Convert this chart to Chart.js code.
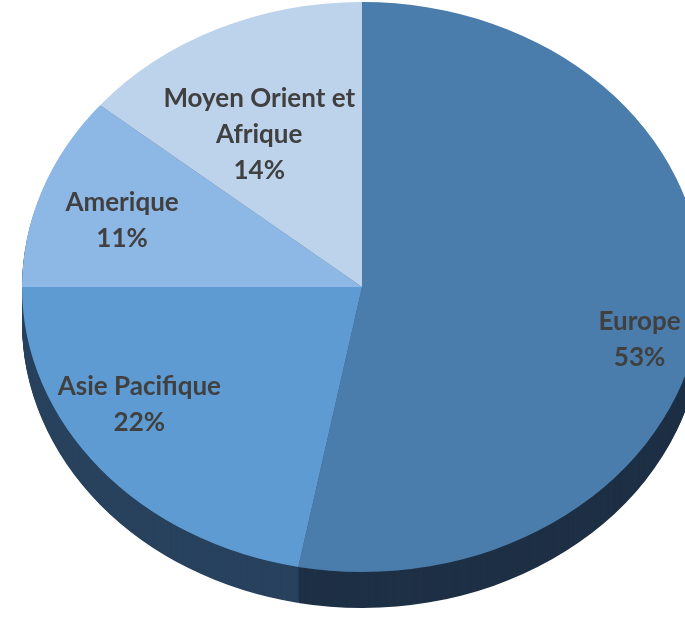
<!DOCTYPE html>
<html>
<head>
<meta charset="utf-8">
<script src="https://cdn.jsdelivr.net/npm/chart.js@4/dist/chart.umd.min.js"></script>
<style>
  html, body { margin: 0; padding: 0; background: #fff; overflow: hidden; }
  #wrap { width: 685px; height: 625px; }
</style>
</head>
<body>
<div id="wrap"><canvas id="regionsChart" width="685" height="625"></canvas></div>
<script>
const regions = ["Europe", "Asie Pacifique", "Amerique", "Moyen Orient et Afrique"];
const shares = [53, 22, 11, 14];

const faceColors = ["#4a7dab", "#5e9bd3", "#8db7e4", "#bdd3ec"];
const rimColors = ["#1e3045", "#28425e", "#2f4d70", "#3a5c82"];

// the pie face is an ellipse, drawn from the library's circle
const face = { cx: 362, cy: 287, rx: 340, ry: 285, depth: 36 };
// where excel put each label: radius fraction and a small vertical nudge
const labelPlace = [
  { r: 0.82, dy: 31 },
  { r: 0.85, dy: -37 },
  { r: 0.75, dy: 6 },
  { r: 0.71, dy: 31 }
];

function squash(ctx, arc) {
  const sx = face.rx / arc.outerRadius;
  const sy = face.ry / arc.outerRadius;
  ctx.translate(face.cx, face.cy);
  ctx.scale(sx, sy);
  ctx.translate(-arc.x, -arc.y);
}

const pie3d = {
  id: "pie3d",
  beforeDatasetsDraw(chart) {
    const ctx = chart.ctx;
    const arcs = chart.getDatasetMeta(0).data;
    ctx.save();
    // side wall: the same arcs pushed down, in dark tones
    for (let d = face.depth; d > 0; d--) {
      ctx.save();
      ctx.translate(0, d);
      squash(ctx, arcs[0]);
      arcs.forEach((arc, i) => {
        const side = Object.create(arc);
        side.options = Object.assign({}, arc.options, { backgroundColor: rimColors[i], borderWidth: 0 });
        Chart.ArcElement.prototype.draw.call(side, ctx);
      });
      ctx.restore();
    }
    squash(ctx, arcs[0]);
  },
  afterDatasetsDraw(chart) {
    chart.ctx.restore();
  },
  afterDraw(chart) {
    const ctx = chart.ctx;
    const arcs = chart.getDatasetMeta(0).data;
    const total = shares.reduce((a, b) => a + b, 0);
    ctx.save();
    ctx.font = "bold 26px Lato";
    ctx.fillStyle = "#404040";
    ctx.textAlign = "center";
    ctx.textBaseline = "middle";
    arcs.forEach((arc, i) => {
      const mid = (arc.startAngle + arc.endAngle) / 2;
      const p = labelPlace[i];
      const x = face.cx + Math.cos(mid) * face.rx * p.r;
      const y = face.cy + Math.sin(mid) * face.ry * p.r + p.dy;
      const lines = wrap(ctx, regions[i], 230);
      lines.push(Math.round(shares[i] / total * 100) + "%");
      const lh = 36;
      const top = y - (lines.length - 1) * lh / 2;
      lines.forEach((t, k) => ctx.fillText(t, x, top + k * lh));
    });
    ctx.restore();
  }
};

function wrap(ctx, text, maxW) {
  const words = text.split(" ");
  const out = [];
  let cur = "";
  words.forEach(w => {
    const test = cur ? cur + " " + w : w;
    if (ctx.measureText(test).width > maxW && cur) {
      out.push(cur);
      cur = w;
    } else {
      cur = test;
    }
  });
  out.push(cur);
  return out;
}

new Chart(document.getElementById("regionsChart"), {
  type: "pie",
  data: {
    labels: regions,
    datasets: [{
      data: shares,
      backgroundColor: faceColors,
      borderWidth: 0
    }]
  },
  options: {
    responsive: false,
    animation: false,
    layout: { padding: 0 },
    plugins: {
      legend: { display: false },
      tooltip: { enabled: false }
    }
  },
  plugins: [pie3d]
});
</script>
</body>
</html>
